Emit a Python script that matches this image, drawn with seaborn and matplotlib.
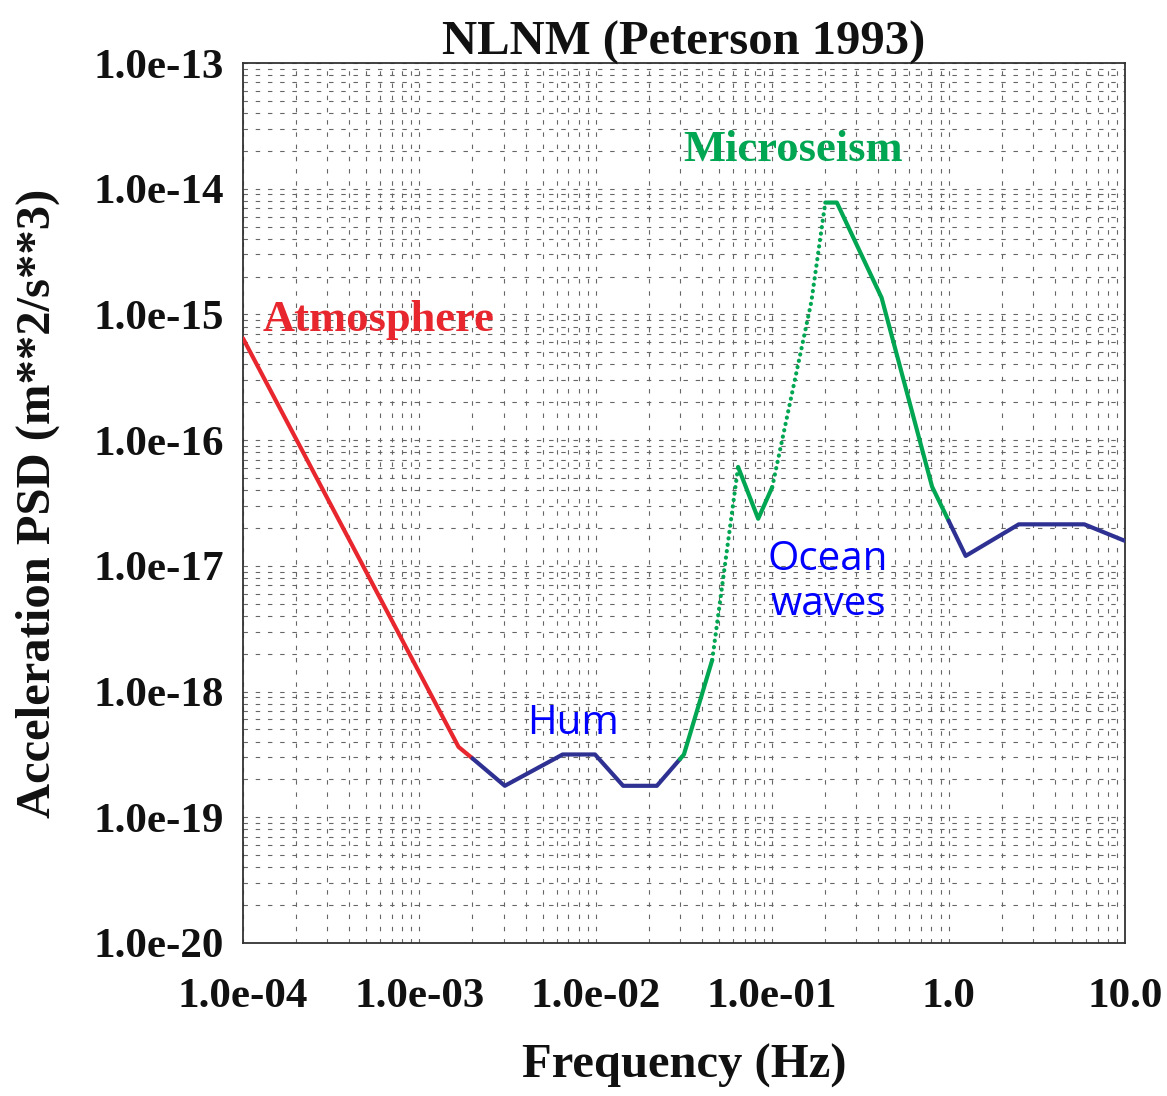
import numpy as np
import pandas as pd
import matplotlib
matplotlib.use("Agg")
import matplotlib.pyplot as plt
import seaborn as sns
from matplotlib.ticker import FixedLocator, LogLocator, NullFormatter

# ---- data (NLNM, Peterson 1993) ----
freq_hz = [1.0e-4, 0.001667, 0.002, 0.00305, 0.00649, 0.0099, 0.01429, 0.0222,
           0.030, 0.0316, 0.0457, 0.0641, 0.0833, 0.100, 0.1667, 0.200, 0.2326,
           0.417, 0.806, 1.0, 1.25, 2.5, 5.88, 10.0]
psd = [6.46e-16, 3.63e-19, 2.94e-19, 1.78e-19, 3.16e-19, 3.16e-19, 1.78e-19, 1.78e-19,
       2.90e-19, 3.16e-19, 1.78e-18, 6.12e-17, 2.37e-17, 4.22e-17, 1.26e-15, 7.76e-15, 7.76e-15,
       1.36e-15, 4.27e-17, 2.29e-17, 1.20e-17, 2.14e-17, 2.14e-17, 1.58e-17]

# segments: (f_start, f_end, band)
seg_start = [1.0e-4, 0.002, 0.030, 0.0457, 0.0641, 0.100, 0.200, 1.0]
seg_end   = [0.002, 0.030, 0.0457, 0.0641, 0.100, 0.200, 1.0, 10.0]
seg_band  = ["atm", "hum", "micro", "micro_dot", "micro", "micro_dot", "micro", "ocean"]

x_tick_vals = [1e-4, 1e-3, 1e-2, 1e-1, 1.0, 10.0]
x_tick_labels = ["1.0e-04", "1.0e-03", "1.0e-02", "1.0e-01", "1.0", "10.0"]
y_tick_vals = [1e-20, 1e-19, 1e-18, 1e-17, 1e-16, 1e-15, 1e-14, 1e-13]
y_tick_labels = ["1.0e-20", "1.0e-19", "1.0e-18", "1.0e-17", "1.0e-16", "1.0e-15", "1.0e-14", "1.0e-13"]

# ---- styles ----
RED = "#e8262d"
NAVY = "#2e3192"
GREEN = "#00a651"
BLUE = "#0000ff"
band_style = {
    "atm": dict(color=RED, ls="-"),
    "hum": dict(color=NAVY, ls="-"),
    "micro": dict(color=GREEN, ls="-"),
    "micro_dot": dict(color=GREEN, ls=(0, (0.05, 1.5))),
    "ocean": dict(color=NAVY, ls="-"),
}

sns.set_theme(style="white")
plt.rcParams["font.family"] = ["Liberation Serif", "DejaVu Serif"]

fig = plt.figure(figsize=(11.67, 10.96), dpi=100)
ax = fig.add_axes([0.2082, 0.1396, 0.7558, 0.8029])

df = pd.DataFrame({"f": freq_hz, "psd": psd})
for s, e, b in zip(seg_start, seg_end, seg_band):
    sub = df[(df["f"] >= s * 0.9999) & (df["f"] <= e * 1.0001)]
    st = band_style[b]
    sns.lineplot(data=sub, x="f", y="psd", ax=ax, color=st["color"], linestyle=st["ls"],
                 linewidth=3.0, estimator=None, sort=False, legend=False,
                 solid_capstyle="round", dash_capstyle="round", zorder=3)

ax.set_xscale("log")
ax.set_yscale("log")
ax.set_xlim(1e-4, 10)
ax.set_ylim(1e-20, 1e-13)

ax.xaxis.set_major_locator(FixedLocator(x_tick_vals))
ax.set_xticklabels(x_tick_labels)
ax.yaxis.set_major_locator(FixedLocator(y_tick_vals))
ax.set_yticklabels(y_tick_labels)
ax.xaxis.set_minor_locator(LogLocator(base=10, subs=np.arange(2, 10)))
ax.yaxis.set_minor_locator(LogLocator(base=10, subs=np.arange(2, 10)))
ax.xaxis.set_minor_formatter(NullFormatter())
ax.yaxis.set_minor_formatter(NullFormatter())

ax.tick_params(axis="both", which="major", direction="out", length=13, width=1.2,
               color="#333333", labelsize=31, pad=1)
ax.tick_params(axis="both", which="minor", length=0)
ax.tick_params(axis="x", which="major", pad=12)
for lab in ax.get_xticklabels() + ax.get_yticklabels():
    lab.set_fontweight("bold")
    lab.set_color("#111111")

ax.grid(True, which="both", color="#666666", linestyle=(0, (4, 7)), linewidth=0.8, zorder=1)

for sp in ax.spines.values():
    sp.set_color("#333333")
    sp.set_linewidth(1.3)
    sp.set_visible(True)

ax.set_xlabel("Frequency (Hz)", fontsize=35, fontweight="bold", color="#111111", labelpad=20)
ax.set_ylabel("Acceleration PSD (m**2/s**3)", fontsize=35, fontweight="bold", color="#111111", labelpad=24)
ax.set_title("NLNM (Peterson 1993)", fontsize=35, fontweight="bold", color="#111111", pad=6)

ax.text(1.30e-4, 9.0e-16, "Atmosphere", color=RED, fontsize=32, fontweight="bold",
        ha="left", va="center", zorder=4)
ax.text(0.131, 2.03e-14, "Microseism", color=GREEN, fontsize=32, fontweight="bold",
        ha="center", va="center", zorder=4)
ax.text(0.00739, 5.5e-19, "Hum", color=BLUE, fontsize=29, fontfamily="Open Sans",
        ha="center", va="center", zorder=4)
ax.text(0.207, 7.43e-18, "Ocean\nwaves", color=BLUE, fontsize=29, fontfamily="Open Sans",
        ha="center", va="center", linespacing=1.15, zorder=4)

fig.savefig("out.png", dpi=100, facecolor="white")
